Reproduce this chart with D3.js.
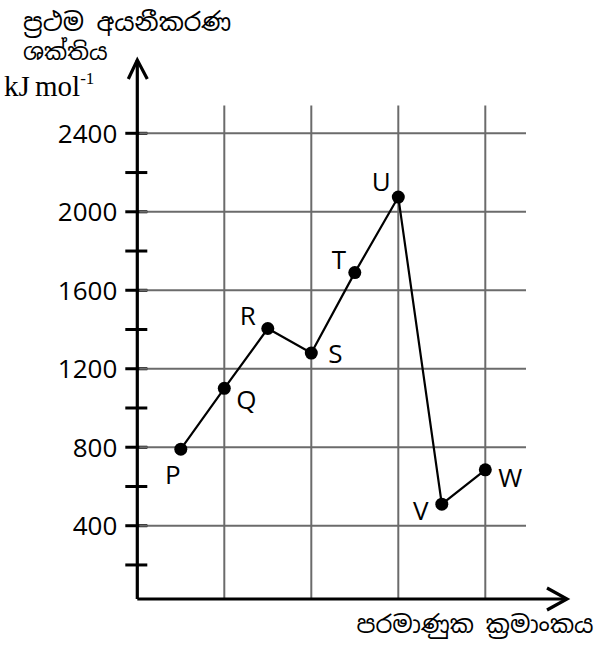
<!DOCTYPE html>
<html>
<head>
<meta charset="utf-8">
<script src="https://cdn.jsdelivr.net/npm/d3@7"></script>
<style>
  html, body { margin: 0; padding: 0; background: #fff; }
  svg { display: block; }
  .sin { font-family: "Noto Sans Sinhala", "Noto Serif Sinhala", "Iskoola Pota", "Liberation Serif", serif; }
</style>
</head>
<body>
<svg id="chart" width="605" height="645"></svg>
<script>
// ---- data ----
const elements = ["P", "Q", "R", "S", "T", "U", "V", "W"];
const atomicIndex = [1, 2, 3, 4, 5, 6, 7, 8];
const ionizationEnergy = [790, 1100, 1405, 1280, 1690, 2075, 510, 685];
const majorTicks = [400, 800, 1200, 1600, 2000, 2400];
const minorTicks = [200, 600, 1000, 1400, 1800, 2200];
const verticalGrid = [2, 4, 6, 8];
const yTitleLines = ["ප්‍රථම අයනීකරණ", "ශක්තිය"];
const xTitle = "පරමාණුක ක්‍රමාංකය";

// ---- layout ----
const labelOffsets = [
  { dx: -8,  dy: 35, anchor: "middle" },
  { dx: 12,  dy: 21, anchor: "start" },
  { dx: -20, dy: -4, anchor: "middle" },
  { dx: 17,  dy: 10, anchor: "start" },
  { dx: -16, dy: -4, anchor: "middle" },
  { dx: -17, dy: -6, anchor: "middle" },
  { dx: -21, dy: 16, anchor: "middle" },
  { dx: 13,  dy: 17, anchor: "start" }
];

const svg = d3.select("#chart");
const x = d3.scaleLinear().domain([0, 10]).range([137.3, 572.3]);
const y = d3.scaleLinear().domain([0, 2400]).range([604.2, 133.3]);

const axisX0 = x(0);
const axisY0 = 599;
const gridRight = 526;
const gridTop = 105.5;
const sansFont = "'Open Sans', 'DejaVu Sans', sans-serif";

// grid
const grid = svg.append("g").attr("stroke", "#6b6b6b").attr("stroke-width", 2);
grid.selectAll("line.h").data(majorTicks).join("line")
  .attr("class", "h")
  .attr("x1", axisX0).attr("x2", gridRight)
  .attr("y1", d => y(d)).attr("y2", d => y(d));
grid.selectAll("line.v").data(verticalGrid).join("line")
  .attr("class", "v")
  .attr("x1", d => x(d)).attr("x2", d => x(d))
  .attr("y1", gridTop).attr("y2", axisY0);

// ticks on y axis
const ticks = svg.append("g").attr("stroke", "#000").attr("stroke-width", 3);
ticks.selectAll("line").data(majorTicks.concat(minorTicks)).join("line")
  .attr("x1", axisX0 - 12).attr("x2", axisX0 + 10)
  .attr("y1", d => y(d)).attr("y2", d => y(d));
// overlay grid colour on right part of major ticks
svg.append("g").attr("stroke", "#6b6b6b").attr("stroke-width", 2)
  .selectAll("line").data(majorTicks).join("line")
  .attr("x1", axisX0 + 2).attr("x2", axisX0 + 10)
  .attr("y1", d => y(d)).attr("y2", d => y(d));

// axes
const axes = svg.append("g").attr("stroke", "#000").attr("stroke-width", 3.2).attr("fill", "none");
axes.append("path").attr("d", `M${axisX0},${axisY0} L${axisX0},60`);
axes.append("path").attr("d", `M${axisX0},${axisY0} L567,${axisY0}`);
axes.append("path").attr("d", `M${axisX0 - 9},79 L${axisX0},60 L${axisX0 + 10},79`).attr("stroke-linejoin", "miter");
axes.append("path").attr("d", `M547,588 L567,${axisY0} L547,610`).attr("stroke-linejoin", "miter");

// tick labels
svg.append("g").selectAll("text").data(majorTicks).join("text")
  .attr("x", axisX0 - 20)
  .attr("y", d => y(d))
  .attr("dy", "0.36em")
  .attr("text-anchor", "end")
  .attr("font-family", sansFont)
  .attr("font-size", 26)
  .attr("fill", "#000")
  .text(d => d);

// data line
const pts = elements.map((e, i) => ({ e, i: atomicIndex[i], v: ionizationEnergy[i], off: labelOffsets[i] }));
svg.append("path").datum(pts)
  .attr("fill", "none").attr("stroke", "#000").attr("stroke-width", 2.2)
  .attr("d", d3.line().x(d => x(d.i)).y(d => y(d.v)));
svg.append("g").selectAll("circle").data(pts).join("circle")
  .attr("cx", d => x(d.i)).attr("cy", d => y(d.v)).attr("r", 6.5).attr("fill", "#000");
svg.append("g").selectAll("text").data(pts).join("text")
  .attr("x", d => x(d.i) + d.off.dx)
  .attr("y", d => y(d.v) + d.off.dy)
  .attr("text-anchor", d => d.off.anchor)
  .attr("font-family", sansFont)
  .attr("font-size", 26)
  .attr("fill", "#000")
  .text(d => d.e);

// y title
svg.append("text").attr("class", "sin").attr("x", 23).attr("y", 31)
  .attr("font-size", 25).text(yTitleLines[0]);
svg.append("text").attr("class", "sin").attr("x", 23).attr("y", 60)
  .attr("font-size", 23).text(yTitleLines[1]);
const unit = svg.append("text").attr("x", 4).attr("y", 96)
  .attr("font-family", "'Liberation Serif', 'Times New Roman', serif")
  .attr("font-size", 29).attr("fill", "#000");
unit.append("tspan").text("kJ");
unit.append("tspan").attr("dx", -2).text(" mol");
unit.append("tspan").attr("font-size", 17).attr("dy", -12).text("-1");

// x title
svg.append("text").attr("class", "sin").attr("x", 475).attr("y", 633)
  .attr("text-anchor", "middle").attr("font-size", 24).text(xTitle);
</script>
</body>
</html>
